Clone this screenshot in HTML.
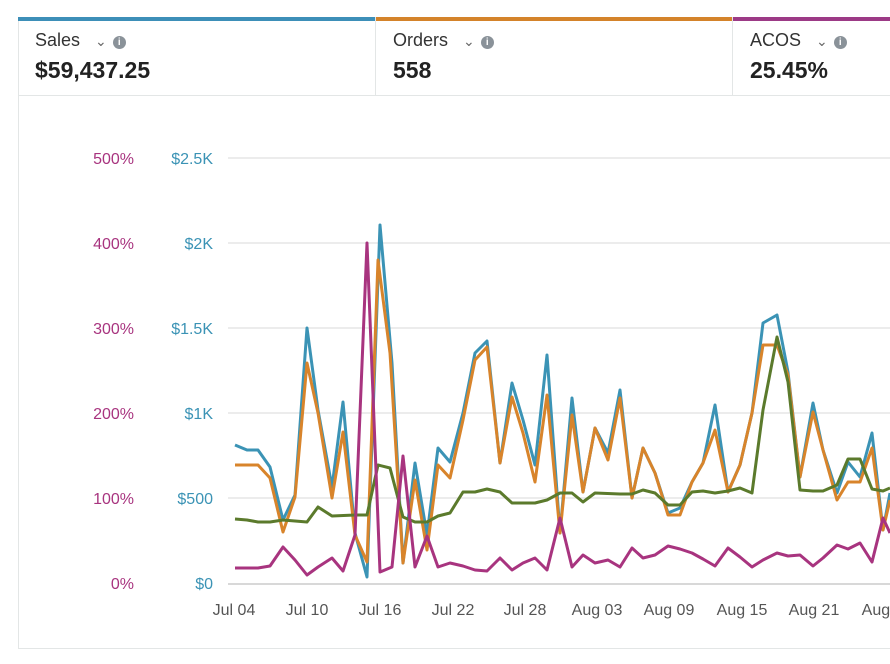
<!DOCTYPE html>
<html><head><style>
body{margin:0;background:#fff;font-family:"Liberation Sans",sans-serif;}
.wrap{position:relative;width:890px;height:664px;overflow:hidden;background:#fff}
.box{position:absolute;left:18px;top:20px;width:900px;height:628px;border:1px solid #e3e6e6;border-top:none}
.card{position:absolute;top:17px;height:79px;border-bottom:1px solid #e3e6e6;border-right:1px solid #e3e6e6;box-sizing:border-box}
.bar{position:absolute;left:0;right:0;top:0;height:4px}
.lab{position:absolute;left:17px;top:13px;font-size:18px;color:#333}
.val{position:absolute;left:17px;top:40px;font-size:23px;font-weight:bold;color:#222}
.info{display:inline-block;width:13px;height:13px;border-radius:50%;background:#8a9299;color:#fff;font-size:10px;text-align:center;line-height:13px;font-weight:bold;vertical-align:1px;margin-left:6px}
.chev{color:#666;font-size:14px;margin-left:10px}
</style></head><body><div class="wrap">
<div class="box"></div>
<div class="card" style="left:18px;width:358px"><div class="bar" style="background:#3d8fb8"></div><div class="lab">Sales <span class="chev">&#8964;</span><span class="info">i</span></div><div class="val">$59,437.25</div></div>
<div class="card" style="left:376px;width:357px"><div class="bar" style="background:#d4832a"></div><div class="lab">Orders <span class="chev">&#8964;</span><span class="info">i</span></div><div class="val">558</div></div>
<div class="card" style="left:733px;width:200px"><div class="bar" style="background:#9c3a86"></div><div class="lab">ACOS <span class="chev">&#8964;</span><span class="info">i</span></div><div class="val">25.45%</div></div>
<svg width="890" height="664" style="position:absolute;left:0;top:0" font-family="Liberation Sans, sans-serif" font-size="16">
<g stroke="#e6e6e6" stroke-width="1.5">
<line x1="228" y1="158" x2="890" y2="158"/><line x1="228" y1="243" x2="890" y2="243"/><line x1="228" y1="328" x2="890" y2="328"/><line x1="228" y1="413" x2="890" y2="413"/><line x1="228" y1="498" x2="890" y2="498"/><line x1="228" y1="584" x2="890" y2="584" stroke="#d8d8d8" stroke-width="2"/>
</g>
<g fill="#a8347f" text-anchor="end"><text x="134" y="164">500%</text><text x="134" y="249">400%</text><text x="134" y="334">300%</text><text x="134" y="419">200%</text><text x="134" y="504">100%</text><text x="134" y="589">0%</text></g>
<g fill="#3b93b5" text-anchor="end"><text x="213" y="164">$2.5K</text><text x="213" y="249">$2K</text><text x="213" y="334">$1.5K</text><text x="213" y="419">$1K</text><text x="213" y="504">$500</text><text x="213" y="589">$0</text></g>
<g fill="#555" text-anchor="middle"><text x="234" y="615">Jul 04</text><text x="307" y="615">Jul 10</text><text x="380" y="615">Jul 16</text><text x="453" y="615">Jul 22</text><text x="525" y="615">Jul 28</text><text x="597" y="615">Aug 03</text><text x="669" y="615">Aug 09</text><text x="742" y="615">Aug 15</text><text x="814" y="615">Aug 21</text><text x="887" y="615">Aug 27</text></g>
<g fill="none" stroke-width="3" stroke-linejoin="round">
<polyline stroke="#3b93b5" points="235,445 247,450 258,450 270,467 283,520 295,495 307,328 318,410 332,487 343,402 355,533 367,577 380,225 392,363 403,563 415,463 427,535 438,448 450,462 463,413 475,353 487,341 500,463 512,383 523,420 535,465 547,355 560,533 572,398 583,492 595,428 608,453 620,390 632,498 643,448 655,473 668,513 680,508 692,482 703,463 715,405 728,492 740,465 752,413 763,323 777,315 788,372 800,477 813,403 823,450 837,493 848,462 860,477 872,433 883,530 890,493"/>
<polyline stroke="#d8842b" points="235,465 258,465 270,478 283,532 295,497 307,363 318,413 332,498 343,432 355,535 367,562 378,260 390,353 403,563 415,480 427,550 438,465 450,478 463,420 475,360 487,347 500,463 512,397 523,433 535,482 547,395 560,533 572,415 583,492 595,428 608,460 620,398 632,498 643,448 655,473 668,515 680,515 692,482 703,463 715,430 728,492 740,465 752,413 763,345 777,345 788,375 800,477 813,412 823,450 837,500 848,482 860,482 872,448 883,530 890,500"/>
<polyline stroke="#5b7a2c" points="235,519 247,520 258,522 270,522 283,520 307,522 318,507 332,516 355,515 367,515 378,465 390,468 403,517 415,522 427,522 438,516 450,513 463,492 475,492 487,489 500,492 512,503 535,503 547,500 560,493 572,493 583,502 595,493 620,494 632,494 643,490 655,493 668,505 680,505 692,492 703,491 715,493 728,491 740,488 752,493 763,410 777,337 788,382 800,490 813,491 823,491 837,485 848,459 860,459 872,489 883,491 890,488"/>
<polyline stroke="#a8347f" points="235,568 258,568 270,566 283,547 295,560 307,575 318,567 332,558 343,571 355,535 367,243 380,572 392,567 403,456 415,567 427,536 438,567 450,563 463,566 475,570 487,571 500,558 512,570 523,563 535,558 547,570 560,518 572,567 583,555 595,563 608,560 620,567 632,548 643,558 655,555 668,546 680,549 692,553 703,559 715,566 728,548 740,557 752,567 763,560 777,553 788,556 800,555 813,566 823,558 837,545 848,549 860,543 872,562 883,518 890,533"/>
</g>
</svg>
</div></body></html>
